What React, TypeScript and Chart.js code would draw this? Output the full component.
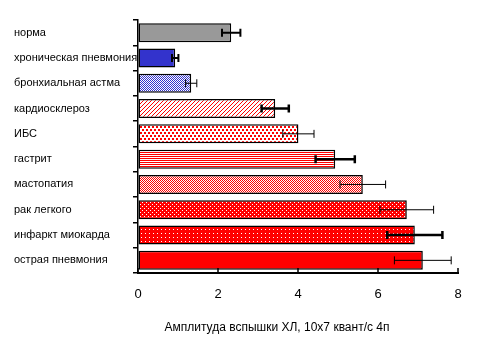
import { useEffect, useRef } from "react";
import { Chart, registerables } from "chart.js";

Chart.register(...registerables);

const categories = [
  "норма",
  "хроническая пневмония",
  "бронхиальная астма",
  "кардиосклероз",
  "ИБС",
  "гастрит",
  "мастопатия",
  "рак легкого",
  "инфаркт миокарда",
  "острая пневмония",
];
const values = [2.33, 0.93, 1.33, 3.43, 4.01, 4.93, 5.62, 6.72, 6.92, 7.12];
const errors = [0.23, 0.08, 0.14, 0.34, 0.39, 0.49, 0.57, 0.67, 0.69, 0.71];
const xTicks = [0, 2, 4, 6, 8];
const xTitle = "Амплитуда вспышки ХЛ, 10х7 квант/с 4п";

// styles
const errLineWidths = [2, 2, 1, 2.5, 1, 2.5, 1, 1, 2.5, 1];
const FONT = "'Liberation Sans', Arial, sans-serif";

type Px = [number, number, number, number];
function makePattern(
  ctx: CanvasRenderingContext2D,
  w: number,
  h: number,
  bg: string,
  fg: string,
  px: Px[]
): CanvasPattern | string {
  const c = document.createElement("canvas");
  c.width = w;
  c.height = h;
  const g = c.getContext("2d")!;
  g.fillStyle = bg;
  g.fillRect(0, 0, w, h);
  g.fillStyle = fg;
  for (const [x, y, pw, ph] of px) g.fillRect(x, y, pw, ph);
  return ctx.createPattern(c, "repeat") || fg;
}

export default function App() {
  const ref = useRef<HTMLCanvasElement | null>(null);

  useEffect(() => {
    document.body.style.margin = "0";
    const canvas = ref.current!;
    const ctx = canvas.getContext("2d")!;
    const RED = "#ff0000";
    const BLUE = "#3333cc";
    const W = "#ffffff";
    const fills = [
      "#999999",
      BLUE,
      makePattern(ctx, 2, 2, W, BLUE, [[0, 0, 1, 1], [1, 1, 1, 1]]),
      makePattern(ctx, 4, 4, W, RED, [[0, 3, 1, 1], [1, 2, 1, 1], [2, 1, 1, 1], [3, 0, 1, 1]]),
      makePattern(ctx, 4, 6, W, RED, [[0, 0, 2, 2], [2, 3, 2, 2]]),
      makePattern(ctx, 1, 2, W, RED, [[0, 0, 1, 1]]),
      makePattern(ctx, 2, 2, W, RED, [[0, 0, 1, 1], [1, 1, 1, 1]]),
      makePattern(ctx, 4, 4, RED, W, [[0, 0, 1, 1], [2, 2, 1, 1]]),
      makePattern(ctx, 4, 4, RED, W, [[1, 1, 1, 1]]),
      RED,
    ];

    const errorBars = {
      id: "errorBars",
      afterDatasetsDraw(chart: any) {
        const c = chart.ctx;
        const xs = chart.scales.x;
        const meta = chart.getDatasetMeta(0);
        c.save();
        c.strokeStyle = "#000";
        meta.data.forEach((bar: any, i: number) => {
          const y = bar.y;
          const x1 = xs.getPixelForValue(values[i] - errors[i]);
          const x2 = xs.getPixelForValue(values[i] + errors[i]);
          c.lineWidth = errLineWidths[i];
          c.beginPath();
          c.moveTo(x1, y);
          c.lineTo(x2, y);
          c.moveTo(x1, y - 4);
          c.lineTo(x1, y + 4);
          c.moveTo(x2, y - 4);
          c.lineTo(x2, y + 4);
          c.stroke();
        });
        c.restore();
      },
    };

    const innerTicks = {
      id: "innerTicks",
      afterDraw(chart: any) {
        const c = chart.ctx;
        const xs = chart.scales.x;
        const bottom = chart.chartArea.bottom;
        c.save();
        c.strokeStyle = "#000";
        c.lineWidth = 1.5;
        c.beginPath();
        for (const v of xTicks) {
          const x = xs.getPixelForValue(v);
          c.moveTo(x, bottom);
          c.lineTo(x, bottom - 5);
        }
        c.stroke();
        c.fillStyle = "#000";
        c.font = `12px ${FONT}`;
        c.textAlign = "center";
        c.textBaseline = "alphabetic";
        c.fillText(xTitle, chart.chartArea.left + 139, 331);
        c.restore();
      },
    };

    const chart = new Chart(canvas, {
      type: "bar",
      data: {
        labels: categories,
        datasets: [
          {
            data: values,
            backgroundColor: fills as any,
            borderColor: "#000",
            borderWidth: 1.5,
            borderSkipped: false,
            barPercentage: 0.75,
            categoryPercentage: 1,
          },
        ],
      },
      options: {
        indexAxis: "y",
        responsive: false,
        animation: false,
        layout: { padding: { left: 14, right: 22, top: 20, bottom: 0 } },
        plugins: { legend: { display: false }, tooltip: { enabled: false } },
        scales: {
          x: {
            min: 0,
            max: 8,
            afterBuildTicks: (s: any) => {
              s.ticks = xTicks.map((v) => ({ value: v }));
            },
            grid: { drawOnChartArea: false, drawTicks: false },
            border: { color: "#000", width: 2 },
            ticks: {
              color: "#000",
              font: { family: FONT, size: 13 },
              padding: 14,
            },
            afterFit: (s: any) => {
              s.height = 87;
            },
          },
          y: {
            grid: {
              drawOnChartArea: false,
              tickLength: 5,
              color: "#000",
              offset: true,
              lineWidth: 1.5,
            },
            border: { color: "#000", width: 1.5 },
            ticks: {
              color: "#000",
              crossAlign: "far",
              font: { family: FONT, size: 11 },
              padding: 4,
            },
            afterFit: (s: any) => {
              s.width = 124;
            },
          },
        },
      },
      plugins: [errorBars, innerTicks],
    });

    return () => chart.destroy();
  }, []);

  return (
    <canvas
      ref={ref}
      width={480}
      height={360}
      style={{ display: "block", width: 480, height: 360 }}
    />
  );
}
